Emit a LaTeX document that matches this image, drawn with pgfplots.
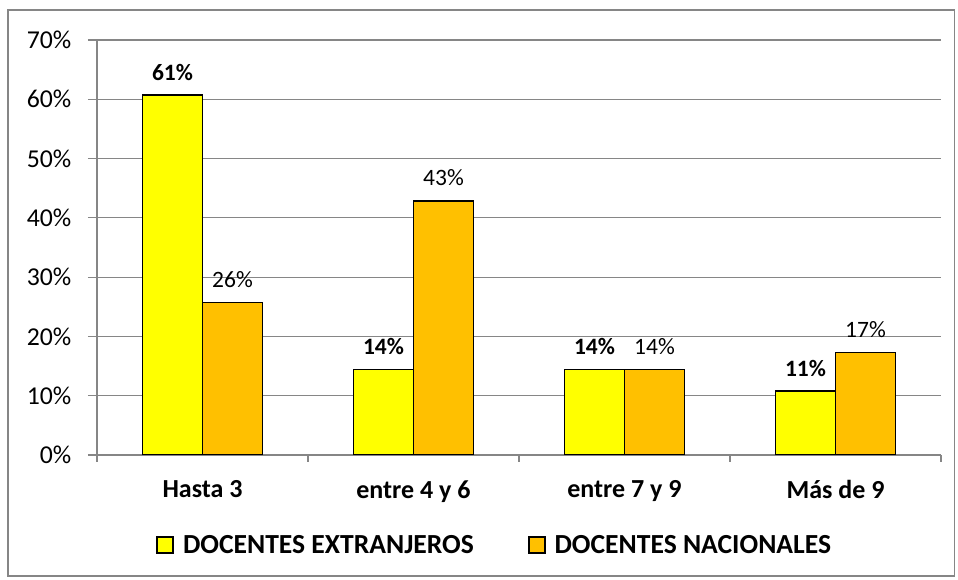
\documentclass[border=0pt]{standalone}
\usepackage{pgfplots}
\pgfplotsset{compat=1.18}
\usepackage{fontspec}
\setmainfont{Carlito}
\definecolor{ybar1}{HTML}{FFFF00}
\definecolor{ybar2}{HTML}{FFC000}
\definecolor{gridgray}{HTML}{868686}
\begin{document}
\begin{tikzpicture}
\useasboundingbox (0,0) rectangle (718.5pt,435pt);
\draw[gridgray, line width=0.9pt] (6pt,3pt) rectangle (716pt,427.5pt);
\begin{axis}[
  at={(72.75pt,93.75pt)}, anchor=south west,
  scale only axis, width=633pt, height=311.25pt,
  xmin=-0.5, xmax=3.5, ymin=0, ymax=70,
  ybar=0pt, bar width=45pt,
  axis x line*=bottom, axis y line*=left,
  axis line style={gridgray, line width=0.9pt},
  xtick={0,1,2,3},
  xticklabels={Hasta 3, entre 4 y 6, entre 7 y 9, Más de 9},
  major x tick style={draw=none},
  minor xtick={-0.5,0.5,1.5,2.5,3.5},
  minor tick length=5pt,
  xticklabel style={font=\fontsize{19.5}{21}\selectfont\bfseries, yshift=-9pt},
  ytick={0,10,...,70},
  yticklabel={\pgfmathprintnumber{\tick}\%},
  /pgf/number format/assume math mode=true,
  yticklabel style={font=\fontsize{19.3}{21}\selectfont, xshift=-9pt},
  major tick length=6.75pt,
  tick align=outside,
  tick style={gridgray, line width=0.9pt},
  ymajorgrids, grid style={gridgray, line width=0.9pt},
  point meta=explicit symbolic,
  nodes near coords,
  every node near coord/.append style={font=\fontsize{17.6}{19}\selectfont, anchor=south, yshift=7pt, black},
  legend style={at={(0.47,-0.217)}, anchor=center, draw=none, fill=none,
    legend columns=2, font=\fontsize{20.7}{22}\selectfont\bfseries,
    nodes={inner xsep=0pt},
    /tikz/every odd column/.append style={column sep=6.75pt},
    /tikz/every even column/.append style={column sep=40.5pt}},
  legend image code/.code={\draw[#1, line width=1.3pt] (0pt,-6pt) rectangle (12pt,6pt);},
]
\addplot[fill=ybar1, draw=black, line width=1.3pt, every node near coord/.append style={font=\fontsize{17.6}{19}\selectfont\bfseries}]
  coordinates {(0,60.7) [61\%] (1,14.4) [14\%] (2,14.4) [14\%] (3,10.8) [11\%]};
\addplot[fill=ybar2, draw=black, line width=1.3pt]
  coordinates {(0,25.7) [26\%] (1,42.9) [43\%] (2,14.4) [14\%] (3,17.3) [17\%]};
\legend{DOCENTES EXTRANJEROS, DOCENTES NACIONALES}
\end{axis}
\end{tikzpicture}
\end{document}
